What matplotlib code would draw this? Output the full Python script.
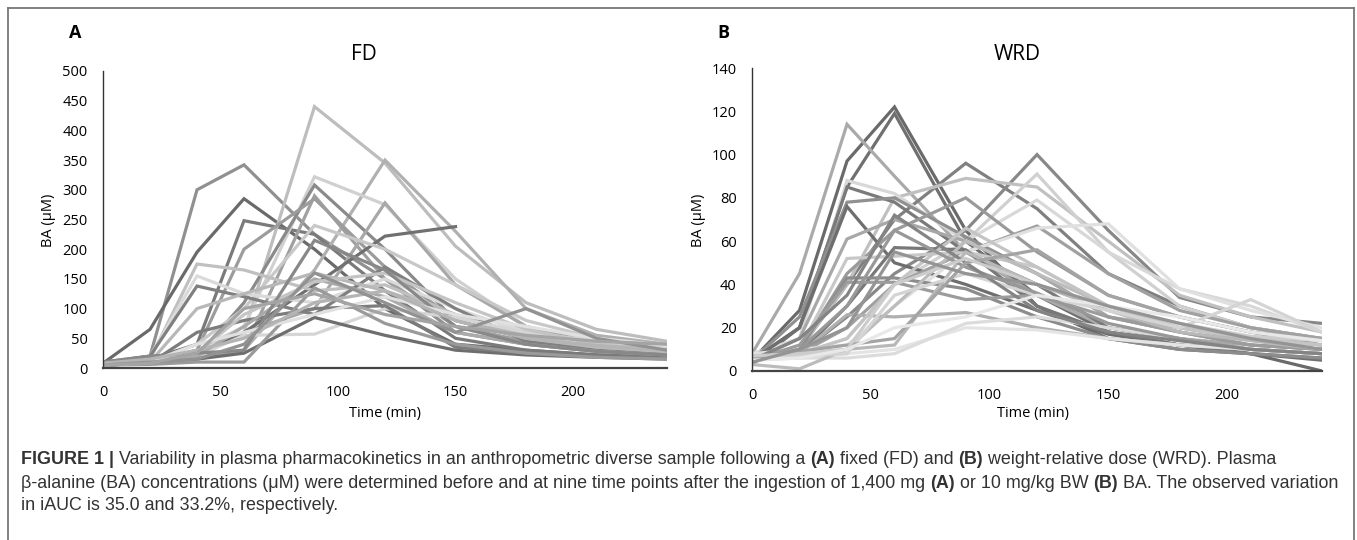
import numpy as np
import matplotlib.pyplot as plt
from matplotlib.lines import Line2D

plt.rcParams['font.family'] = ['Open Sans', 'DejaVu Sans']

# sampling times (min)
times = [0, 20, 40, 60, 90, 120, 150, 180, 210, 240]
nan = np.nan

# panel A, fixed dose (FD): BA in uM, one row per subject
fd_values = [
    [10, 20, 300, 342, 225, 150, 60, 40, 28, 22],
    [8, 65, 195, 285, 200, 100, 40, 30, 22, 18],
    [6, 15, 40, 248, 225, 130, 50, 30, 22, 18],
    [5, 8, 20, 60, 440, 345, 205, 110, 65, 45],
    [5, 8, 15, 30, 165, 350, 230, 100, 55, 40],
    [5, 10, 30, 70, 322, 275, 150, 70, 45, 35],
    [5, 10, 20, 110, 308, 200, 80, 50, 35, 25],
    [5, 8, 15, 30, 290, 150, 70, 45, 30, 22],
    [8, 10, 30, 200, 285, 170, 80, 50, 35, 25],
    [5, 8, 20, 60, 100, 278, 140, 70, 40, 30],
    [5, 10, 20, 60, 140, 222, 238, nan, nan, nan],
    [5, 10, 40, 100, 240, 200, 140, 80, 50, 35],
    [5, 15, 175, 165, 130, 140, 90, 55, 35, 28],
    [5, 20, 155, 125, 110, 150, 100, 60, 40, 30],
    [8, 20, 138, 120, 90, 170, 100, 45, 30, 22],
    [5, 10, 100, 125, 160, 130, 90, 50, 35, 28],
    [5, 8, 20, 55, 57, 100, 85, 60, 45, 35],
    [5, 8, 15, 25, 85, 55, 30, 22, 18, 15],
    [5, 8, 60, 80, 100, 105, 35, 25, 20, 16],
    [5, 6, 10, 10, 135, 75, 40, 25, 18, 15],
    [5, 8, 20, 70, 150, 120, 60, 40, 28, 22],
    [5, 10, 25, 90, 145, 160, 110, 65, 40, 30],
    [10, 20, 25, 30, 215, 165, 70, 40, 28, 22],
    [5, 10, 40, 60, 90, 120, 90, 70, 50, 38],
    [8, 15, 30, 50, 110, 130, 80, 50, 38, 30],
    [5, 10, 15, 40, 160, 110, 60, 100, 50, 30],
    [5, 8, 25, 100, 125, 90, 70, 55, 45, 40],
]
fd_greys = ['#909090', '#6a6a6a', '#7a7a7a', '#bdbdbd', '#b0b0b0', '#d0d0d0',
            '#8a8a8a', '#a0a0a0', '#9c9c9c', '#a8a8a8', '#707070', '#c8c8c8',
            '#c0c0c0', '#dadada', '#808080', '#b8b8b8', '#d5d5d5', '#6e6e6e',
            '#7c7c7c', '#9a9a9a', '#aaaaaa', '#c4c4c4', '#888888', '#e0e0e0',
            '#b4b4b4', '#929292', '#a4a4a4']

# panel B, weight-relative dose (WRD)
wrd_values = [
    [5, 28, 97, 122, 65, 30, 15, 10, 8, 0],
    [3, 20, 85, 119, 60, 35, 18, 12, 8, 5],
    [8, 45, 114, 90, 55, 35, 20, 15, 12, 10],
    [5, 10, 40, 70, 96, 75, 45, 30, 20, 15],
    [5, 8, 25, 45, 65, 100, 65, 34, 25, 22],
    [5, 10, 40, 80, 89, 85, 60, 35, 25, 18],
    [5, 8, 15, 40, 60, 91, 55, 30, 20, 15],
    [8, 15, 88, 82, 60, 79, 55, 38, 30, 18],
    [5, 20, 85, 78, 55, 40, 20, 15, 10, 8],
    [5, 25, 78, 80, 62, 45, 25, 18, 12, 10],
    [5, 20, 76, 50, 40, 28, 17, 12, 10, 8],
    [5, 10, 45, 65, 80, 55, 35, 25, 18, 12],
    [5, 8, 20, 40, 55, 67, 45, 28, 20, 15],
    [8, 10, 12, 30, 55, 66, 68, 38, 28, 20],
    [5, 15, 61, 70, 60, 45, 25, 20, 15, 12],
    [5, 10, 52, 53, 55, 48, 30, 20, 15, 12],
    [5, 8, 30, 57, 56, 30, 18, 12, 8, 6],
    [5, 10, 43, 43, 38, 25, 15, 10, 8, 6],
    [5, 12, 41, 41, 33, 35, 25, 18, 12, 10],
    [5, 8, 26, 25, 27, 20, 15, 12, 10, 8],
    [5, 6, 8, 10, 20, 19, 15, 12, 10, 8],
    [6, 6, 6, 8, 22, 25, 20, 15, 10, 8],
    [3, 1, 10, 30, 60, 45, 30, 20, 15, 12],
    [7, 8, 15, 40, 66, 48, 30, 20, 15, 12],
    [5, 8, 10, 12, 55, 40, 28, 18, 14, 10],
    [6, 7, 8, 35, 45, 35, 28, 20, 33, 18],
    [5, 10, 30, 65, 48, 36, 22, 15, 10, 8],
    [5, 15, 35, 72, 50, 28, 18, 14, 10, 8],
    [6, 9, 12, 15, 50, 56, 35, 25, 18, 15],
    [7, 8, 10, 40, 52, 40, 30, 22, 16, 14],
    [5, 6, 10, 20, 25, 35, 30, 25, 18, 14],
    [4, 10, 20, 55, 45, 40, 30, 22, 15, 10],
]
wrd_greys = ['#6a6a6a', '#707070', '#aaaaaa', '#808080', '#888888', '#c0c0c0',
             '#d0d0d0', '#d8d8d8', '#7a7a7a', '#909090', '#6e6e6e', '#9a9a9a',
             '#a0a0a0', '#e0e0e0', '#a8a8a8', '#c8c8c8', '#787878', '#8c8c8c',
             '#9c9c9c', '#b0b0b0', '#e4e4e4', '#dcdcdc', '#bcbcbc', '#c4c4c4',
             '#b8b8b8', '#d4d4d4', '#989898', '#848484', '#a4a4a4', '#cccccc',
             '#e8e8e8', '#949494']

fig = plt.figure(figsize=(13.57, 5.4), dpi=100)
W, H = 1357, 540


def px(x, y):
    return x / W, 1 - y / H


def panel(rect, data, greys, ymax, ystep):
    ax = fig.add_axes(rect)
    for row, c in zip(data, greys):
        ax.plot(times, row, color=c, lw=2.3, solid_joinstyle='miter')
    ax.set_xlim(0, 240)
    ax.set_ylim(0, ymax)
    ax.set_xticks([0, 50, 100, 150, 200])
    ax.set_yticks(np.arange(0, ymax + 1, ystep))
    for s in ['top', 'right']:
        ax.spines[s].set_visible(False)
    ax.spines['left'].set_color('#333333')
    ax.spines['left'].set_linewidth(1.0)
    ax.spines['bottom'].set_color('#444444')
    ax.spines['bottom'].set_linewidth(1.6)
    ax.tick_params(length=0, labelsize=10.5, colors='black')
    ax.tick_params(axis='y', pad=11)
    ax.tick_params(axis='x', pad=12)
    return ax


axA = panel([103 / W, 1 - 368 / H, 564 / W, 297 / H], fd_values, fd_greys, 500, 50)
axB = panel([752 / W, 1 - 371 / H, 570 / W, 303 / H], wrd_values, wrd_greys, 140, 20)

# panel letters, titles and axis labels
fig.text(*px(75, 33), 'A', fontsize=13, fontweight='bold', ha='center', va='center')
fig.text(*px(723, 33), 'B', fontsize=13, fontweight='bold', ha='center', va='center')
fig.text(*px(364, 55), 'FD', fontsize=15, ha='center', va='center')
fig.text(*px(1017, 55), 'WRD', fontsize=15, ha='center', va='center')
for x0, y0 in [(48, 220), (698, 220)]:
    fig.text(*px(x0, y0), 'BA (μM)', fontsize=10.5, rotation=90, ha='center', va='center')
fig.text(*px(385, 414), 'Time (min)', fontsize=10.5, ha='center', va='center')
fig.text(*px(1033, 414), 'Time (min)', fontsize=10.5, ha='center', va='center')

# border box (open at the bottom)
for xs, ys in [([8, 8], [8, 540]), ([8, 1354], [8, 8]), ([1354, 1354], [8, 540])]:
    fig.add_artist(Line2D([x / W for x in xs], [1 - y / H for y in ys],
                          color='#777777', lw=1.3))

# caption, mixed bold / regular pieces
caption = [
    [('FIGURE 1 |', True), (' Variability in plasma pharmacokinetics in an anthropometric diverse sample following a ', False),
     ('(A)', True), (' fixed (FD) and ', False), ('(B)', True), (' weight-relative dose (WRD). Plasma', False)],
    [('β-alanine (BA) concentrations (μM) were determined before and at nine time points after the ingestion of 1,400 mg ', False),
     ('(A)', True), (' or 10 mg/kg BW ', False), ('(B)', True), (' BA. The observed variation', False)],
    [('in iAUC is 35.0 and 33.2%, respectively.', False)],
]
cap_y = [460, 483, 506]
renderer = fig.canvas.get_renderer()
for line, yy in zip(caption, cap_y):
    x = 21
    for txt, bold in line:
        t = fig.text(x / W, 1 - yy / H, txt, fontsize=12.9, family=['Liberation Sans', 'DejaVu Sans'],
                     fontweight='bold' if bold else 'normal', color='#333333', va='center', ha='left')
        bb = t.get_window_extent(renderer=renderer)
        x += bb.width

fig.savefig('out.png', dpi=100)
